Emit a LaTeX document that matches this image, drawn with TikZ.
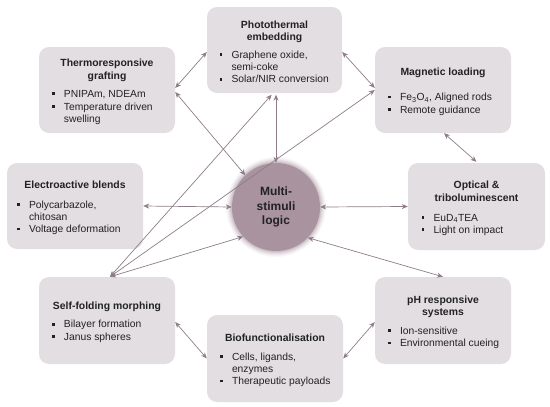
\documentclass[tikz,border=0pt]{standalone}
\usepackage{fontspec}
\setmainfont{Liberation Sans}
\usetikzlibrary{arrows.meta,calc}
\definecolor{boxfill}{HTML}{E3DEE1}
\definecolor{circfill}{HTML}{A8939F}
\definecolor{arrowc}{HTML}{8E7D89}
\definecolor{txt}{HTML}{222222}
\newcommand{\bitem}[1]{\par\noindent\makebox[12pt][l]{\raisebox{2.4pt}{\rule{2.8pt}{2.8pt}}}\mbox{#1}}
\newcommand{\bcont}[1]{\par\noindent\hspace*{12pt}\mbox{#1}}
\newcommand{\boxtext}[4]{\begin{minipage}{#1}\vspace*{3.5pt}\centering\fontsize{10.4}{12.7}\selectfont\bfseries #3\par\vspace{#2}\raggedright\mdseries\fontsize{10.3}{12.4}\selectfont #4\end{minipage}}
\begin{document}
\begin{tikzpicture}[x=1pt,y=-1pt,
  box/.style={fill=boxfill, rounded corners=10pt, minimum width=136pt, minimum height=86pt, inner sep=0pt, text=txt},
  conn/.style={draw=arrowc, line width=0.7pt, >={Stealth[length=6pt,width=5pt]}, <->}]
\useasboundingbox (0,0) rectangle (550,407);

\node[box] (thermo) at (107,90) {\boxtext{110pt}{6pt}{Thermoresponsive\\grafting}{\bitem{PNIPAm, NDEAm}\bitem{Temperature driven}\bcont{swelling}}};
\node[box, minimum width=135pt] (photo) at (274.5,50) {\boxtext{110pt}{5pt}{Photothermal\\embedding}{\bitem{Graphene oxide,}\bcont{semi-coke}\bitem{Solar/NIR conversion}}};
\node[box] (magnet) at (443,90) {\boxtext{110pt}{12.5pt}{Magnetic loading}{\bitem{Fe\textsubscript{3}O\textsubscript{4}, Aligned rods}\bitem{Remote guidance}}};
\node[box] (electro) at (75,206) {\boxtext{116pt}{7.5pt}{Electroactive blends}{\bitem{Polycarbazole,}\bcont{chitosan}\bitem{Voltage deformation}}};
\node[box, minimum width=137pt, minimum height=87pt] (optical) at (476.5,206.5) {\boxtext{110pt}{7.5pt}{Optical \&\\triboluminescent}{\bitem{EuD\textsubscript{4}TEA}\bitem{Light on impact}}};
\node[box, minimum height=87pt] (self) at (107,320.5) {\boxtext{110pt}{6pt}{Self-folding morphing}{\bitem{Bilayer formation}\bitem{Janus spheres}}};
\node[box, minimum height=87pt] (bio) at (275,358.5) {\boxtext{110pt}{6.5pt}{Biofunctionalisation}{\bitem{Cells, ligands,}\bcont{enzymes}\bitem{Therapeutic payloads}}};
\node[box, minimum height=87pt] (ph) at (443,320.5) {\boxtext{110pt}{6pt}{pH responsive\\systems}{\bitem{Ion-sensitive}\bitem{Environmental cueing}}};

\foreach \r/\o in {50/0.06,49/0.08,48/0.1,47/0.14,46/0.18,45/0.25}
  \fill[circfill, opacity=\o] (276,207) circle (\r);
\node[circle, fill=circfill, minimum size=88pt, inner sep=0pt, text=txt, align=center,
  font=\fontsize{12}{14.7}\selectfont\bfseries] (circ) at (276,207) {Multi-\\stimuli\\logic};

\draw[conn] ([yshift=2pt]thermo.east) -- ([yshift=-2pt]photo.west);
\draw[conn] ([yshift=-2pt]photo.east) -- ([yshift=2pt]magnet.west);
\draw[conn] ([xshift=1pt]magnet.south) -- ([yshift=1pt]optical.north);
\draw[conn] (optical.west) -- (circ.east);
\draw[conn] (circ.-44) -- (ph.north);
\draw[conn] ([yshift=-1.5pt]ph.west) -- (bio.east);
\draw[conn] (bio.west) -- ([yshift=-1.5pt]self.east);
\draw[conn] (electro.east) -- (circ.west);
\draw[conn] ([yshift=-2pt]thermo.east) -- (circ.134);
\draw[conn, shorten >=1.5pt] (circ.north) -- (circ.north |- photo.south);
\coordinate (sftop) at ([xshift=3pt]self.north);
\draw[conn] (sftop) -- (circ.-138);
\draw[conn, shorten >=2pt] (sftop) -- ([xshift=-1.5pt]photo.south);
\draw[conn] (sftop) -- (magnet.west);
\end{tikzpicture}
\end{document}
